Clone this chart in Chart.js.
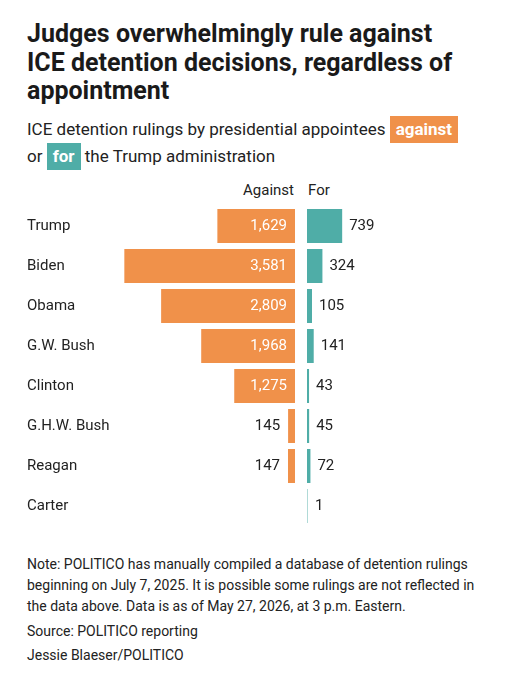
<!DOCTYPE html>
<html>
<head>
<meta charset="utf-8">
<script src="https://cdn.jsdelivr.net/npm/chart.js@4.4.1/dist/chart.umd.min.js"></script>
<style>
  body { margin: 0; background: #fff; font-family: Roboto, sans-serif; color: #1a1a1a; }
  #wrap { position: relative; width: 505px; height: 680px; overflow: hidden; }
  .abs { position: absolute; }
  h1 { margin: 0; font-size: 25px; line-height: 28.5px; font-weight: 700; left: 27px; top: 20px; width: 440px; }
  .sub { left: 27px; top: 116px; font-size: 17px; line-height: 21px; width: 445px; color: #222; }
  .tag { display: inline-block; color: #fff; font-weight: 700; padding: 3px 6px; line-height: 21px; }
  .tag.against { background: #f0914a; }
  .tag.for { background: #4fada7; }
  .hdr { top: 181px; font-size: 15px; color: #222; }
  .note { left: 27px; top: 554px; width: 470px; font-size: 14px; line-height: 21px; color: #222; }
  .src { left: 27px; font-size: 14px; color: #222; }
</style>
</head>
<body>
<div id="wrap">
  <h1 class="abs">Judges overwhelmingly rule against ICE detention decisions, regardless of appointment</h1>
  <div class="abs sub">ICE detention rulings by presidential appointees <span class="tag against">against</span> or <span class="tag for">for</span> the Trump administration</div>
  <div class="abs hdr" style="right:211px;">Against</div>
  <div class="abs hdr" style="left:308px;">For</div>
  <div class="abs" style="left:27px; top:206px; width:268px; height:320px;"><canvas id="against"></canvas></div>
  <div class="abs" style="left:307px; top:206px; width:198px; height:320px;"><canvas id="for"></canvas></div>
  <div class="abs note">Note: POLITICO has manually compiled a database of detention rulings beginning on July 7, 2025. It is possible some rulings are not reflected in the data above. Data is as of May 27, 2026, at 3 p.m. Eastern.</div>
  <div class="abs src" style="top:623px;">Source: POLITICO reporting</div>
  <div class="abs src" style="top:647px;">Jessie Blaeser/POLITICO</div>
</div>
<script>
const presidents = ['Trump', 'Biden', 'Obama', 'G.W. Bush', 'Clinton', 'G.H.W. Bush', 'Reagan', 'Carter'];
const againstValues = [1629, 3581, 2809, 1968, 1275, 145, 147, 0];
const forValues = [739, 324, 105, 141, 43, 45, 72, 1];

const ORANGE = '#f0914a';
const TEAL = '#4fada7';
const LABEL_FONT = '15px Roboto, sans-serif';

// both panels share the same px-per-ruling scale
const AGAINST_MAX = 3630;
const FOR_MAX = 4160;

const fmt = v => v.toLocaleString('en-US');

// value labels: inside the bar when it fits, otherwise outside
// category names on the left panel, drawn at the canvas' left edge
const valueLabels = {
  id: 'valueLabels',
  afterDatasetsDraw(chart, args, opts) {
    const ctx = chart.ctx;
    const meta = chart.getDatasetMeta(0);
    const data = chart.data.datasets[0].data;
    ctx.save();
    ctx.font = LABEL_FONT;
    ctx.textBaseline = 'middle';
    meta.data.forEach((bar, i) => {
      if (opts.names) {
        ctx.fillStyle = '#222';
        ctx.textAlign = 'left';
        ctx.fillText(chart.data.labels[i], 0, bar.y);
      }
      const v = data[i];
      if (!v) return;
      const len = Math.abs(bar.x - bar.base);
      const text = fmt(v);
      const tw = ctx.measureText(text).width;
      if (opts.side === 'left') {
        ctx.textAlign = 'right';
        if (len > tw + 16) {
          ctx.fillStyle = '#fff';
          ctx.fillText(text, bar.base - 8, bar.y);
        } else {
          ctx.fillStyle = '#222';
          ctx.fillText(text, bar.x - 8, bar.y);
        }
      } else {
        ctx.fillStyle = '#222';
        ctx.textAlign = 'left';
        ctx.fillText(text, Math.max(bar.x, bar.base + 1) + 7, bar.y);
      }
    });
    ctx.restore();
  }
};

const common = {
  indexAxis: 'y',
  responsive: true,
  maintainAspectRatio: false,
  animation: false,
  plugins: { legend: { display: false }, tooltip: { enabled: false } }
};

new Chart(document.getElementById('against'), {
  type: 'bar',
  data: {
    labels: presidents,
    datasets: [{
      data: againstValues,
      backgroundColor: ORANGE,
      barPercentage: 0.85,
      categoryPercentage: 1
    }]
  },
  options: {
    ...common,
    layout: { padding: { left: 95, right: 0, top: 0, bottom: 0 } },
    plugins: { ...common.plugins, valueLabels: { side: 'left', names: true } },
    scales: {
      x: { reverse: true, min: 0, max: AGAINST_MAX, display: false },
      y: { display: false }
    }
  },
  plugins: [valueLabels]
});

new Chart(document.getElementById('for'), {
  type: 'bar',
  data: {
    labels: presidents,
    datasets: [{
      data: forValues,
      backgroundColor: forValues.map(v => v < 5 ? 'rgba(79,173,167,0.45)' : TEAL),
      barPercentage: 0.85,
      categoryPercentage: 1,
      minBarLength: 1
    }]
  },
  options: {
    ...common,
    layout: { padding: 0 },
    plugins: { ...common.plugins, valueLabels: { side: 'right' } },
    scales: {
      x: { min: 0, max: FOR_MAX, display: false },
      y: { display: false }
    }
  },
  plugins: [valueLabels]
});
</script>
</body>
</html>
